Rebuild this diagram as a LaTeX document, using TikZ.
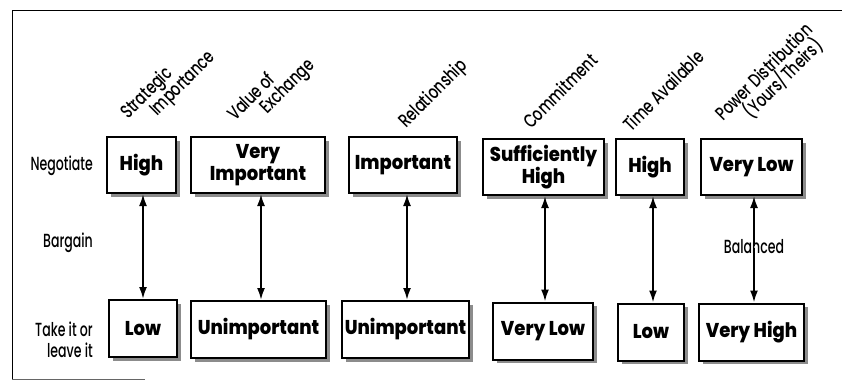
\documentclass[tikz,border=0pt]{standalone}
\usepackage{fontspec}
\usetikzlibrary{arrows.meta,shadows}
\newfontfamily\lblfont[FakeStretch=0.66]{Poppins Medium}
\newfontfamily\hdrfont[FakeStretch=0.74]{Poppins Medium}
\newfontfamily\boxfont[FakeStretch=0.9]{Poppins ExtraBold}
\tikzset{
  valbox/.style={draw=black, line width=2pt, fill=white, inner sep=0pt, align=center,
    font=\boxfont\fontsize{20}{22}\selectfont,
    drop shadow={shadow xshift=3.5pt, shadow yshift=-3.5pt, fill=black!45, opacity=1}},
  rowlbl/.style={anchor=east, align=right, inner sep=0pt, font=\lblfont\fontsize{19}{21}\selectfont},
  hdr/.style={anchor=base west, rotate=45, inner sep=0pt, font=\hdrfont\fontsize{19}{21}\selectfont},
  arr/.style={line width=2pt, {Latex[length=12pt,width=8pt]}-{Latex[length=12pt,width=8pt]}},
  arrdn/.style={line width=2pt, -{Latex[length=12pt,width=8pt]}},
  frame/.style={line width=1pt, black}
}
\begin{document}
\begin{tikzpicture}[x=1pt,y=-1pt]
\useasboundingbox (0,0) rectangle (842,380);
% frame
\coordinate (fTL) at (12,10);
\coordinate (fTR) at (842,10);
\coordinate (fBL) at (12,379);
\coordinate (fBR) at (145,379);
\draw[frame] (fTR) -- (fTL) -- (fBL);
\draw[line width=0.8pt, black!60] (fBL) -- (fBR);
% row labels
\node[rowlbl] (neg) at (93,166) {Negotiate};
\node[rowlbl] (barg) at (93,243) {Bargain};
\node[rowlbl] (take) at (93,340) {Take it or\\leave it};
% top boxes
\node[valbox, minimum width=69pt, minimum height=56pt] (B1) at (141.5,165) {High};
\node[valbox, minimum width=134pt, minimum height=56pt] (B2) at (258,165) {Very\\Important};
\node[valbox, minimum width=108pt, minimum height=56pt] (B3) at (403,165) {Important};
\node[valbox, minimum width=121pt, minimum height=56pt] (B4) at (543.5,167) {Sufficiently\\High};
\node[valbox, minimum width=68pt, minimum height=56pt] (B5) at (650,167) {High};
\node[valbox, minimum width=101pt, minimum height=56pt] (B6) at (751.5,167) {Very Low};
% bottom boxes
\node[valbox, minimum width=68pt, minimum height=57pt] (C1) at (143,328.5) {Low};
\node[valbox, minimum width=135pt, minimum height=57pt] (C2) at (258.5,329.5) {Unimportant};
\node[valbox, minimum width=127pt, minimum height=57pt] (C3) at (405.5,329.5) {Unimportant};
\node[valbox, minimum width=100pt, minimum height=57pt] (C4) at (543,331) {Very Low};
\node[valbox, minimum width=66pt, minimum height=57pt] (C5) at (651,332) {Low};
\node[valbox, minimum width=105pt, minimum height=57pt] (C6) at (751.5,332) {Very High};
% arrows
\draw[arr] (C1.north) -- (C1.north |- B1.south);
\draw[arr] ([xshift=2.5pt]C2.north) -- ([xshift=2.5pt]C2.north |- B2.south);
\draw[arr] ([xshift=1.5pt]C3.north) -- ([xshift=1.5pt]C3.north |- B3.south);
\draw[arr] ([xshift=1.5pt]B4.south) -- ([xshift=1.5pt]B4.south |- C4.north);
\draw[arr] ([xshift=2pt]C5.north) -- ([xshift=2pt]C5.north |- B5.south);
\node[font=\lblfont\fontsize{19}{21}\selectfont, inner sep=0pt] (bal) at (754,247) {Balanced};
\draw[arrdn] ([yshift=-6pt]bal.north) -- (bal.north |- B6.south);
\draw[arrdn] ([yshift=6pt]bal.south) -- (bal.south |- C6.north);
% headers
\node[hdr] (h1a) at (128,120) {Strategic};
\node[hdr] (h1b) at (157,117) {Importance};
\node[hdr] (h2a) at (235,122) {Value of};
\node[hdr] (h2b) at (267,115) {Exchange};
\node[hdr] (h3) at (406,129) {Relationship};
\node[hdr] (h4) at (531,130) {Commitment};
\node[hdr] (h5) at (631,133) {Time Available};
\node[hdr] (h6a) at (723,122) {Power Distribution};
\node[hdr] (h6b) at (751,120) {(Yours/Theirs)};
\end{tikzpicture}
\end{document}
